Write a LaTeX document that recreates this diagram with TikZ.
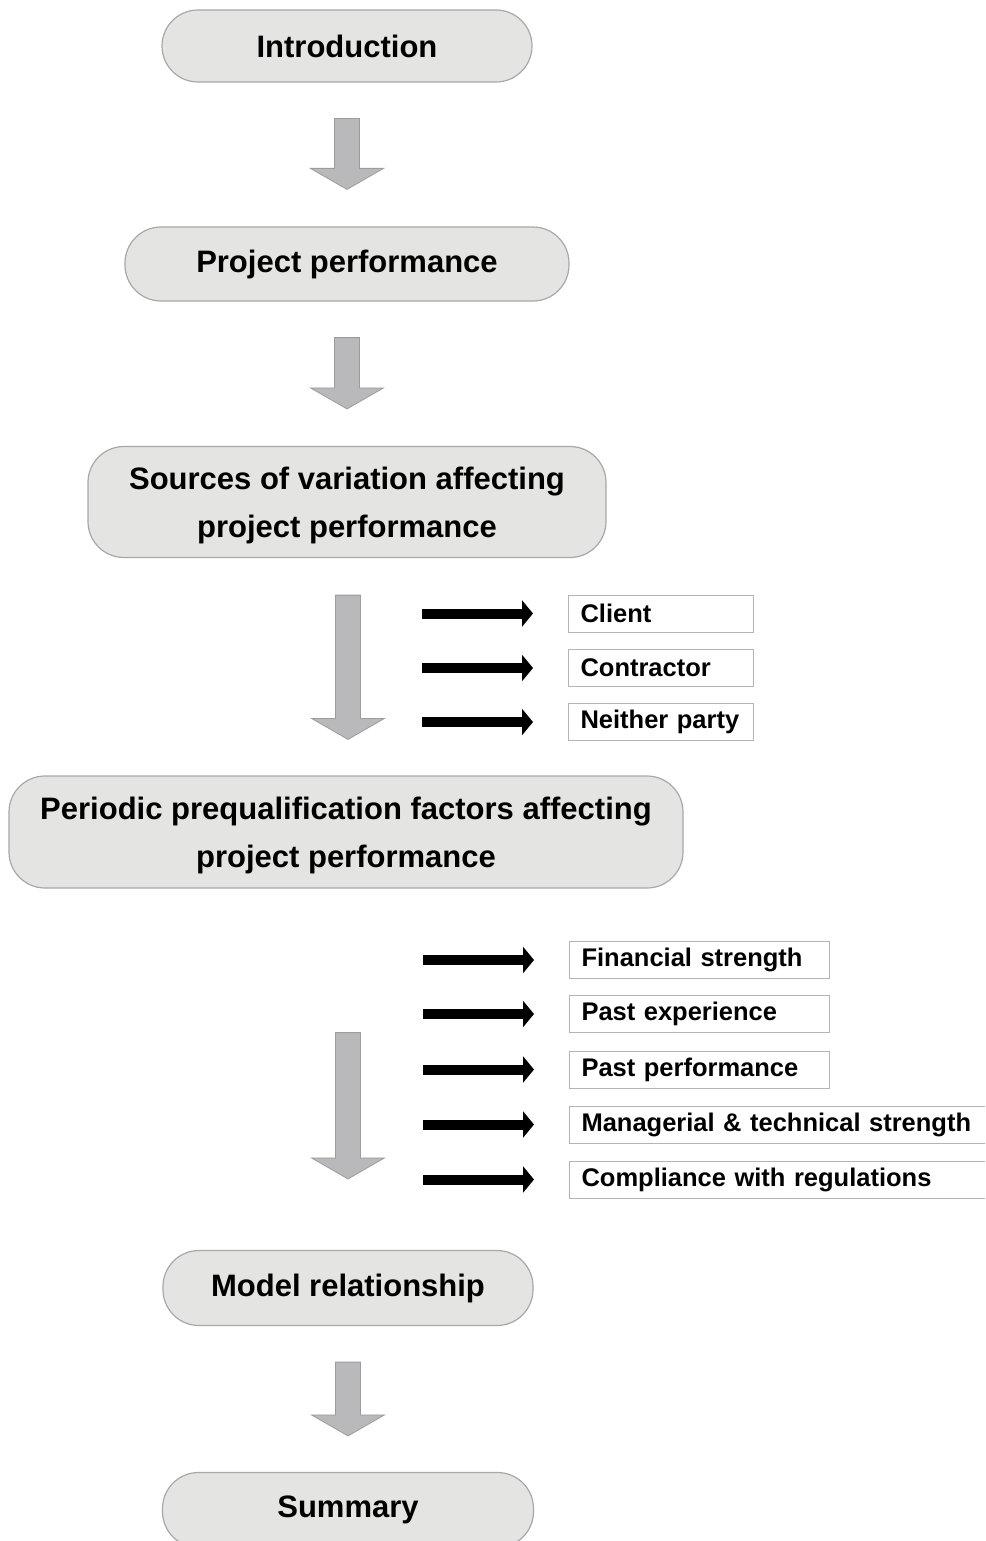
\documentclass[tikz,border=0pt]{standalone}
\usepackage{fontspec}
\setmainfont{Liberation Sans}
\usetikzlibrary{calc,arrows.meta}
\definecolor{pillfill}{HTML}{E4E4E2}
\definecolor{pilledge}{HTML}{A8A8A8}
\definecolor{flowgray}{HTML}{B9B9BB}
\definecolor{flowedge}{HTML}{9C9C9C}
\definecolor{boxedge}{HTML}{B4B4B4}

% wide grey block arrow from coordinate #1 (top of shaft) to coordinate #2 (tip)
\newcommand\flowarrow[2]{%
  \draw[flow] ($(#1)+(-12.5,0)$) -- ($(#2)+(-12.5,-21)$) -- ($(#2)+(-36.5,-21)$)
    -- (#2) -- ($(#2)+(36.5,-21)$) -- ($(#2)+(12.5,-21)$) -- ($(#1)+(12.5,0)$) -- cycle;}

\begin{document}
\begin{tikzpicture}[x=1pt,y=-1pt,
  pill/.style={draw=pilledge, line width=1.2pt, fill=pillfill, rounded corners=36pt,
    align=center, inner sep=0pt, font=\fontsize{31}{48}\selectfont\bfseries},
  twoline/.style={text depth=0pt},
  tag/.style={draw=boxedge, line width=1pt, fill=white, anchor=west, inner xsep=12pt,
    inner ysep=0pt, minimum height=37pt, align=left, font=\fontsize{25.5}{30}\selectfont\bfseries},
  feed/.style={line width=10pt, draw=black, -{Triangle[length=11pt,width=26pt]}, shorten >=35pt},
  flow/.style={fill=flowgray, draw=flowedge, line width=0.8pt}
]
\clip (0,0) rectangle (985,1541);
\fill[white] (0,0) rectangle (985,1541);

% main stages
\node[pill, minimum width=370pt, minimum height=72pt] (intro) at (347,46) {Introduction};
\node[pill, minimum width=444pt, minimum height=74pt] (perf) at (347,264) {Project performance};
\node[pill, twoline, minimum width=518pt, minimum height=111pt] (sources) at (347,502)
  {Sources of variation affecting\\project performance};
\node[pill, twoline, minimum width=674pt, minimum height=112pt] (periodic) at (346,832)
  {Periodic prequalification factors affecting\\project performance};
\node[pill, minimum width=370pt, minimum height=75pt] (model) at (348,1288) {Model relationship};
\node[pill, minimum width=371pt, minimum height=75pt] (summary) at (348,1510) {Summary};

% sources of variation
\node[tag, text width=161pt] (client) at (568,613.5) {Client};
\node[tag, text width=161pt] (contractor) at (568,668) {Contractor};
\node[tag, text width=161pt] (neither) at (568,722) {Neither party};

% prequalification factors
\node[tag, text width=236pt] (financial) at (569,960) {Financial strength};
\node[tag, text width=236pt] (experience) at (569,1014) {Past experience};
\node[tag, text width=236pt] (pastperf) at (569,1069.5) {Past performance};
\node[tag, text width=400pt] (managerial) at (569,1124.5) {Managerial \& technical strength};
\node[tag, text width=400pt] (compliance) at (569,1179.5) {Compliance with regulations};

% grey flow arrows between stages
\coordinate (g1a) at ($(intro.south)+(0,36)$);
\coordinate (g1b) at ($(perf.north)+(0,-37)$);
\coordinate (g2a) at ($(perf.south)+(0,36)$);
\coordinate (g2b) at ($(sources.north)+(0,-37)$);
\coordinate (g3a) at ($(sources.south)+(1,37)$);
\coordinate (g3b) at ($(periodic.north)+(2,-36)$);
\coordinate (g4a) at ($(periodic.south)+(2,144)$);
\coordinate (g4b) at ($(model.north)+(0,-71)$);
\coordinate (g5a) at ($(model.south)+(0,36)$);
\coordinate (g5b) at ($(summary.north)+(0,-36)$);
\flowarrow{g1a}{g1b}
\flowarrow{g2a}{g2b}
\flowarrow{g3a}{g3b}
\flowarrow{g4a}{g4b}
\flowarrow{g5a}{g5b}

% black arrows feeding the factor boxes
\foreach \n in {client,contractor,neither,financial,experience,pastperf,managerial,compliance}
  \draw[feed] ($(\n.west)+(-146,0)$) -- (\n.west);
\end{tikzpicture}
\end{document}
